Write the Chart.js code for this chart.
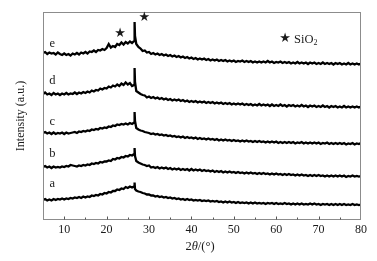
<!DOCTYPE html>
<html>
<head>
<meta charset="utf-8">
<script src="https://cdn.jsdelivr.net/npm/chart.js@4.4.0/dist/chart.umd.min.js"></script>
<style>
  html, body { margin: 0; padding: 0; background: #fff; }
  #wrap { width: 377px; height: 261px; }
</style>
</head>
<body>
<div id="wrap"><canvas id="xrd" width="377" height="261"></canvas></div>
<script>
// 2theta grid in degrees (extra points around the 26.6 deg quartz line)
var twoTheta = [
  5, 5.5, 6, 6.5, 7, 7.5, 8, 8.5, 9, 9.5,
  10, 10.5, 11, 11.5, 12, 12.5, 13, 13.5, 14, 14.5,
  15, 15.5, 16, 16.5, 17, 17.5, 18, 18.5, 19, 19.5,
  20, 20.5, 21, 21.5, 22, 22.5, 23, 23.5, 24, 24.5,
  25, 25.5, 26, 26.5, 26.6, 26.7, 27, 27.5, 28, 28.5,
  29, 29.5, 30, 30.5, 31, 31.5, 32, 32.5, 33, 33.5,
  34, 34.5, 35, 35.5, 36, 36.5, 37, 37.5, 38, 38.5,
  39, 39.5, 40, 40.5, 41, 41.5, 42, 42.5, 43, 43.5,
  44, 44.5, 45, 45.5, 46, 46.5, 47, 47.5, 48, 48.5,
  49, 49.5, 50, 50.5, 51, 51.5, 52, 52.5, 53, 53.5,
  54, 54.5, 55, 55.5, 56, 56.5, 57, 57.5, 58, 58.5,
  59, 59.5, 60, 60.5, 61, 61.5, 62, 62.5, 63, 63.5,
  64, 64.5, 65, 65.5, 66, 66.5, 67, 67.5, 68, 68.5,
  69, 69.5, 70, 70.5, 71, 71.5, 72, 72.5, 73, 73.5,
  74, 74.5, 75, 75.5, 76, 76.5, 77, 77.5, 78, 78.5,
  79, 79.5, 80
];

// intensities (a.u., curves already offset as stacked in the figure)
var curveA = [
  20, 21, 19.5, 20.5, 19.5, 21, 20, 21, 20.5, 21.5,
  20.5, 21.5, 21, 22, 21.5, 22.5, 22, 23, 22, 23.5,
  22.5, 23.5, 23, 24.5, 24, 25, 24.5, 26, 25.5, 27,
  26.5, 28, 27.5, 29, 29, 30.5, 30, 31.5, 31, 33,
  32, 33.5, 32.5, 33.5, 37.5, 31, 29.5, 28.5, 28, 27,
  26.5, 25.5, 25.5, 24.5, 24.5, 23.5, 24, 23, 23.5, 22.5,
  23, 22, 22.5, 21.5, 22, 21, 21.5, 20.5, 21, 20,
  21, 20, 20.5, 19.5, 20, 19.5, 20, 19, 19.5, 19,
  19.5, 18.5, 19, 18.5, 19, 18, 18.5, 17.5, 18.5, 17.5,
  18.5, 17.5, 18, 17, 18, 17, 17.5, 17, 17.5, 16.5,
  17.5, 16.5, 17.5, 16.5, 17, 16.5, 17, 16, 17, 16.5,
  17, 16, 17, 16, 16.5, 16, 17, 16, 16.5, 15.5,
  16.5, 15.5, 16.5, 15.5, 16.5, 15.5, 16, 15.5, 16.5, 15.5,
  16.5, 15.5, 16, 15, 16, 15.5, 16, 15, 16, 15,
  16, 15, 16, 15, 16, 15, 15.5, 15, 16, 15,
  15.5, 15, 15.5
];
var curveB = [
  53, 54, 52.5, 53.5, 52, 53.5, 52.5, 53, 52.5, 53.5,
  53, 54, 53.5, 55, 54.5, 54, 53.5, 54.5, 54, 55,
  54.5, 55.5, 55, 56.5, 56, 57, 56.5, 58, 57.5, 58.5,
  58.5, 59.5, 59, 61, 60.5, 62, 61.5, 63, 62.5, 64,
  63.5, 65, 64.5, 66, 72, 64, 59, 57.5, 56.5, 55.5,
  55, 54, 54.5, 52.5, 53, 52, 53, 51.5, 52.5, 51.5,
  52.5, 51, 52, 50.5, 51.5, 50.5, 51.5, 50, 51, 50,
  51, 49.5, 51, 49.5, 50.5, 49.5, 50.5, 49, 50, 49,
  49.5, 48.5, 49.5, 48, 49, 48, 49, 47.5, 48.5, 47.5,
  48.5, 47.5, 48, 47, 48, 47, 47.5, 46.5, 47.5, 46.5,
  47.5, 46.5, 47, 46, 47, 46, 47, 46, 46.5, 45.5,
  46.5, 45.5, 46.5, 45.5, 46, 45, 46, 45, 46, 45,
  45.5, 44.5, 45.5, 44.5, 45.5, 44.5, 45, 44, 45, 44,
  45, 44, 45, 44, 44.5, 43.5, 44.5, 43.5, 44.5, 43.5,
  44.5, 43.5, 44.5, 43.5, 44.5, 43, 44, 43.5, 44.5, 43.5,
  44, 43.5, 44
];
var curveC = [
  87, 88, 86.5, 87.5, 86, 87.5, 86, 87, 86.5, 87.5,
  86, 87.5, 86.5, 87, 87.5, 88, 87, 88.5, 88, 89,
  88.5, 89.5, 89, 90.5, 90, 91, 90.5, 92, 91.5, 92.5,
  92, 93.5, 93, 94.5, 94, 95.5, 95, 96, 95.5, 96.5,
  95.5, 97, 96, 97.5, 108, 99, 92, 90.5, 89.5, 89,
  88, 87.5, 87, 86, 86.5, 85.5, 86, 85, 85.5, 84.5,
  85, 84, 84.5, 83.5, 84, 83, 83.5, 82.5, 83.5, 82,
  83, 82, 82.5, 81.5, 82.5, 81, 82, 81, 81.5, 80.5,
  81.5, 80.5, 81, 80, 81, 79.5, 80.5, 79.5, 80.5, 79.5,
  80, 79, 80, 79, 79.5, 78.5, 79.5, 78.5, 79.5, 78.5,
  79, 78, 79, 78, 79, 78, 78.5, 77.5, 78.5, 77.5,
  78.5, 77.5, 78.5, 77, 78, 77, 78, 77, 78, 77,
  78, 76.5, 77.5, 77, 78, 76.5, 77.5, 76.5, 77.5, 76.5,
  77.5, 76.5, 77.5, 76, 77, 76.5, 77.5, 76, 77, 76,
  77, 76, 77, 76, 77, 75.5, 76.5, 76, 77, 75.5,
  76.5, 76, 77
];
var curveD = [
  126, 127.5, 125.5, 126.5, 125, 127, 125.5, 126.5, 125, 126.5,
  125.5, 127, 125.5, 126.5, 126, 127.5, 126, 127.5, 126.5, 128,
  127, 128.5, 127.5, 129.5, 128.5, 130, 129.5, 131.5, 130.5, 132,
  131.5, 133.5, 132.5, 134.5, 133.5, 135.5, 134, 136.5, 135, 137.5,
  135.5, 137, 134, 135, 152, 138, 129, 127.5, 126, 125,
  124.5, 122.5, 123.5, 122, 123, 121.5, 122.5, 121, 122, 120.5,
  121.5, 120, 121, 119.5, 120.5, 119.5, 120.5, 119, 120, 118.5,
  119.5, 118, 119, 118, 119, 117.5, 118.5, 117.5, 118.5, 117,
  118, 117, 118, 116.5, 117.5, 116.5, 117.5, 116, 117, 116,
  117, 115.5, 116.5, 115.5, 116.5, 115.5, 116.5, 115, 116, 115,
  116, 114.5, 115.5, 114.5, 116, 114.5, 115.5, 114.5, 115.5, 114,
  115.5, 114, 115, 114, 115.5, 114, 115, 113.5, 115, 114,
  115, 113.5, 114.5, 113.5, 115, 113.5, 114.5, 113, 114.5, 113.5,
  114.5, 113, 114, 113, 114.5, 113, 114, 112.5, 114, 113,
  114, 112.5, 113.5, 112.5, 114, 112.5, 113.5, 112.5, 113.5, 112.5,
  113.5, 112.5, 113.5
];
var curveE = [
  167, 168, 166, 167.5, 166.5, 167, 165.5, 167.5, 166, 165,
  166.5, 165, 166, 164.5, 166.5, 165.5, 167, 165.5, 167.5, 166.5,
  168, 166.5, 168.5, 168, 169.5, 168, 170, 169.5, 171, 170,
  172, 176, 172.5, 174, 173, 176, 175, 177.5, 175.5, 178,
  176.5, 178.5, 177, 179, 198, 184, 176, 173, 171.5, 169,
  169.5, 167.5, 168, 166, 167, 165.5, 166.5, 165, 166, 164.5,
  165.5, 164, 165, 163.5, 164.5, 163, 164, 162.5, 163.5, 162,
  163, 161.5, 162.5, 161, 162, 160.5, 161.5, 160.5, 161.5, 160,
  161, 159.5, 160.5, 159.5, 160.5, 159, 160, 159, 160, 158.5,
  159.5, 158.5, 159.5, 158, 159, 158.5, 159.5, 158, 159, 158,
  159, 157.5, 158.5, 157.5, 158.5, 157.5, 158.5, 157.5, 159, 157.5,
  158.5, 157, 158, 157.5, 158.5, 157, 158, 157, 158, 156.5,
  157.5, 156.5, 158, 156.5, 157.5, 156.5, 157.5, 156, 157.5, 156.5,
  157.5, 156, 157, 156, 157.5, 156, 157, 156, 157, 155.5,
  157, 156, 157, 155.5, 156.5, 155.5, 157, 155.5, 156.5, 155.5,
  156.5, 155.5, 156.5
];

var curveNames = ['a', 'b', 'c', 'd', 'e'];
var curves = [curveA, curveB, curveC, curveD, curveE];
var xTicks = [10, 20, 30, 40, 50, 60, 70, 80];

var SERIF = '"Liberation Serif", "Times New Roman", serif';

// where the letters and stars sit, in data units
var letterAt = { x: 7.2, y: { a: 36, b: 66, c: 98.3, d: 139.3, e: 176.7 } };
var starMarks = [{ x: 23.2, y: 186.7 }, { x: 28.9, y: 202.7 }];

var xrdDecor = {
  id: 'xrdDecor',
  afterDraw: function (chart) {
    var ctx = chart.ctx, a = chart.chartArea;
    var xs = chart.scales.x, ys = chart.scales.y;
    ctx.save();

    // frame
    ctx.strokeStyle = '#8c8c8c';
    ctx.lineWidth = 1;
    ctx.strokeRect(Math.round(a.left) + 0.5, Math.round(a.top) + 0.5,
      Math.round(a.right - a.left) - 1, Math.round(a.bottom - a.top) - 1);

    // inward ticks on the bottom axis, minor every 5
    ctx.strokeStyle = '#555';
    var yb = Math.round(a.bottom) - 0.5;
    for (var v = 10; v < 80; v += 5) {
      var px = Math.round(xs.getPixelForValue(v)) + 0.5;
      var len = v % 10 === 0 ? 3 : 2;
      ctx.beginPath();
      ctx.moveTo(px, yb);
      ctx.lineTo(px, yb - len);
      ctx.stroke();
    }

    ctx.fillStyle = '#1a1a1a';
    ctx.textAlign = 'center';
    ctx.textBaseline = 'middle';

    // curve letters
    ctx.font = '12.5px ' + SERIF;
    curveNames.forEach(function (n) {
      ctx.fillText(n, xs.getPixelForValue(letterAt.x), ys.getPixelForValue(letterAt.y[n]));
    });

    // SiO2 stars
    ctx.font = '13px "DejaVu Sans", sans-serif';
    starMarks.forEach(function (s) {
      ctx.fillText('\u2605', xs.getPixelForValue(s.x), ys.getPixelForValue(s.y));
    });

    // legend  ★ SiO2
    var lx = xs.getPixelForValue(62.1), ly = ys.getPixelForValue(181.7);
    ctx.fillText('\u2605', lx, ly);
    ctx.textAlign = 'left';
    ctx.font = '12.5px ' + SERIF;
    ctx.fillText('SiO', lx + 9, ly + 1);
    var w = ctx.measureText('SiO').width;
    ctx.font = '8px ' + SERIF;
    ctx.fillText('2', lx + 9 + w, ly + 5);

    // x title: 2θ/(°) with italic theta
    ctx.textBaseline = 'alphabetic';
    var parts = [
      { t: '2', f: '12.5px ' + SERIF },
      { t: '\u03b8', f: 'italic 12.5px ' + SERIF },
      { t: '/(\u00b0)', f: '12.5px ' + SERIF }
    ];
    var total = 0;
    parts.forEach(function (p) { ctx.font = p.f; p.w = ctx.measureText(p.t).width; total += p.w; });
    var tx = (a.left + a.right) / 2 - 2 - total / 2;
    parts.forEach(function (p) { ctx.font = p.f; ctx.fillText(p.t, tx, 250); tx += p.w; });

    // y title
    ctx.translate(21, (a.top + a.bottom) / 2);
    ctx.rotate(-Math.PI / 2);
    ctx.textAlign = 'center';
    ctx.textBaseline = 'middle';
    ctx.font = '12px ' + SERIF;
    ctx.fillText('Intensity (a.u.)', 0, 0);

    ctx.restore();
  }
};

new Chart(document.getElementById('xrd'), {
  type: 'line',
  data: {
    datasets: curves.map(function (vals, k) {
      return {
        label: curveNames[k],
        data: twoTheta.map(function (t, i) { return { x: t, y: vals[i] }; }),
        borderColor: '#000',
        borderWidth: 2.3,
        pointRadius: 0,
        tension: 0,
        fill: false
      };
    })
  },
  options: {
    responsive: false,
    animation: false,
    layout: { padding: { left: 43, right: 16, top: 12, bottom: 0 } },
    plugins: { legend: { display: false }, tooltip: { enabled: false } },
    scales: {
      x: {
        type: 'linear',
        min: 5,
        max: 80,
        afterBuildTicks: function (s) { s.ticks = xTicks.map(function (v) { return { value: v }; }); },
        afterFit: function (s) { s.height = 41; },
        grid: { display: false, drawTicks: false, tickLength: 0 },
        border: { display: false },
        ticks: { color: '#1a1a1a', padding: 3, maxRotation: 0, autoSkip: false,
                 font: { family: SERIF, size: 12 } }
      },
      y: { display: false, min: 0, max: 208 }
    }
  },
  plugins: [xrdDecor]
});
</script>
</body>
</html>
